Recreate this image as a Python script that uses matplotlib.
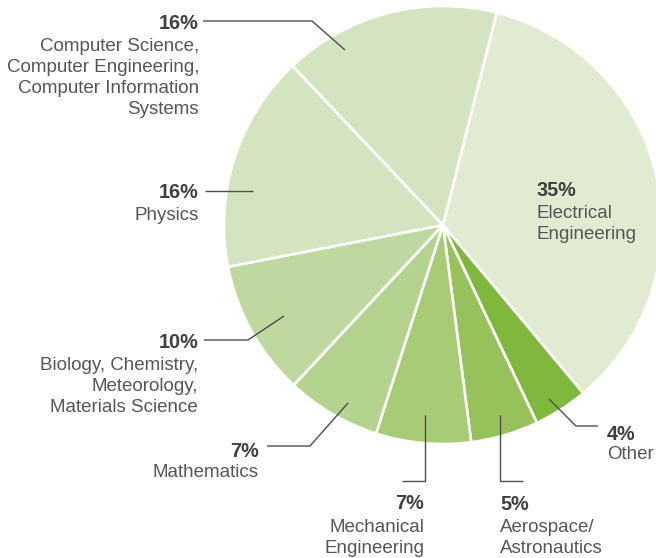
import matplotlib
matplotlib.use("Agg")
import matplotlib.pyplot as plt

# ---- data ----
categories = ["Electrical\nEngineering", "Other", "Aerospace/\nAstronautics",
              "Mechanical\nEngineering", "Mathematics",
              "Biology, Chemistry,\nMeteorology,\nMaterials Science",
              "Physics",
              "Computer Science,\nComputer Engineering,\nComputer Information\nSystems"]
values = [35, 4, 5, 7, 7, 10, 16, 16]
pct_labels = ["35%", "4%", "5%", "7%", "7%", "10%", "16%", "16%"]

# ---- style ----
colors = ["#e1ebd2", "#7fb83c", "#97c25b", "#a8cb76", "#b4d38e", "#bfd89f",
          "#d4e4c0", "#d4e4c0"]
W, H = 656, 558
TXT = "#555555"
PCT = "#3f3f3f"
LINE = "#4d4d4d"

fig = plt.figure(figsize=(W / 100, H / 100), dpi=100)
ax = fig.add_axes([0, 0, 1, 1])
ax.set_xlim(0, W)
ax.set_ylim(0, H)
ax.set_aspect("equal")
ax.axis("off")

def Y(py):
    return H - py

ax.pie(values, colors=colors, startangle=90 - 14.2, counterclock=False,
       center=(443, Y(225)), radius=219,
       wedgeprops=dict(edgecolor="white", linewidth=1.9))
ax.set_xlim(0, W)
ax.set_ylim(0, H)

# label layout: (x, pct baseline, first desc baseline, align, leader path)
layout = [
    (537, 196, 218, "left", None),
    (607, 440, 459, "left", [(598, 426), (576, 426), (549, 399)]),
    (500, 510, 532, "left", [(523, 481), (500, 481), (500, 415)]),
    (424, 509, 532, "right", [(402, 481), (425, 481), (425, 415)]),
    (259, 457, 477, "right", [(267, 446), (310, 446), (348, 403)]),
    (198, 348, 370, "right", [(204, 340), (248, 340), (284, 316)]),
    (199, 198, 220, "right", [(205, 191), (253, 191)]),
    (199, 29, 51, "right", [(203, 21), (312, 21), (345, 50)]),
]

FONT = "Liberation Sans"
for cat, pct, (x, pb, db, ha, path) in zip(categories, pct_labels, layout):
    ax.text(x, Y(pb), pct, ha=ha, va="baseline", fontsize=14.3,
            fontweight="bold", color=PCT, family=FONT)
    for i, line in enumerate(cat.split("\n")):
        ax.text(x, Y(db + 21 * i), line, ha=ha, va="baseline", fontsize=13.5,
                color=TXT, family=FONT)
    if path:
        xs = [p[0] for p in path]
        ys = [Y(p[1]) for p in path]
        ax.plot(xs, ys, color=LINE, linewidth=1.0, solid_capstyle="butt")

fig.savefig("out.png", dpi=100)
